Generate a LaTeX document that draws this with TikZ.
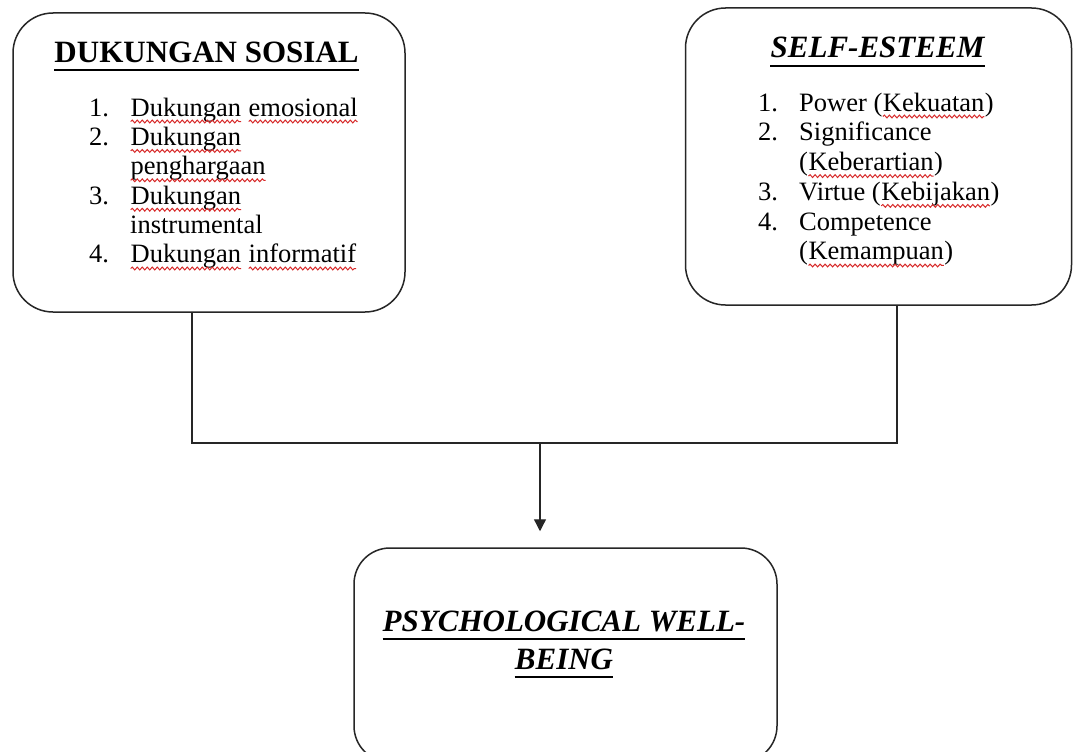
\documentclass[tikz,border=0pt]{standalone}
\usepackage{fontspec}
\setmainfont{Liberation Serif}
\usetikzlibrary{arrows.meta,decorations.pathmorphing}
\definecolor{spellred}{RGB}{215,40,40}
\newcommand\rw[1]{\tikz[x=1cm,y=1cm,baseline=(w.base)]{\node[anchor=base,inner sep=0pt,outer sep=0pt] (w) at (0,0) {#1};\draw[spellred,line width=1pt,decorate,decoration={snake,amplitude=1.4pt,segment length=5pt}] ([yshift=-5.5pt]w.base west) -- ([yshift=-5.5pt]w.base east);}}
\tikzset{
  box/.style={draw=black!85, line width=1.5pt, rounded corners=40pt, inner sep=0pt},
  titletext/.style={anchor=base, inner sep=0pt, font=\fontsize{31}{34}\selectfont\bfseries},
  listtext/.style={anchor=base west, inner sep=0pt, font=\fontsize{26.5}{29.4}\selectfont},
  uline/.style={line width=2.4pt, black},
  link/.style={draw=black!85, line width=1.3pt}
}
\begin{document}
\begin{tikzpicture}[x=1pt,y=-1pt]
\useasboundingbox (0,0) rectangle (1074,752);
\clip (0,0) rectangle (1074,752);
\fill[white] (0,0) rectangle (1074,752);
% boxes
\node[box, minimum width=392pt, minimum height=299pt] (ds) at (209,162.5) {};
\node[box, minimum width=386pt, minimum height=297pt] (se) at (878.5,156.5) {};
\node[box, rounded corners=36pt, minimum width=423pt, minimum height=214pt] (pw) at (565.5,655) {};
% titles
\node[titletext] (dst) at (206.5,63) {DUKUNGAN SOSIAL};
\draw[uline] ([yshift=-7pt]dst.base west) -- ([yshift=-7pt]dst.base east);
\node[titletext, font=\fontsize{31}{34}\selectfont\bfseries\itshape] (set) at (877.5,58) {SELF-ESTEEM};
\draw[uline] ([yshift=-8pt]set.base west) -- ([yshift=-8pt]set.base east);
\node[titletext, font=\fontsize{31}{34}\selectfont\bfseries\itshape] (pwt1) at (564,631) {PSYCHOLOGICAL WELL-};
\draw[uline] ([yshift=-8pt]pwt1.base west) -- ([yshift=-8pt]pwt1.base east);
\node[titletext, font=\fontsize{31}{34}\selectfont\bfseries\itshape] (pwt2) at (564,669) {BEING};
\draw[uline] ([yshift=-8pt]pwt2.base west) -- ([yshift=-8pt]pwt2.base east);
% lists
\node[listtext] (dsl) at (89,116) {\begin{tabular}[t]{@{}p{41pt}@{}l@{}}
1. & \rw{Dukungan} \rw{emosional}\\
2. & \rw{Dukungan}\\
   & \rw{penghargaan}\\
3. & \rw{Dukungan}\\
   & instrumental\\
4. & \rw{Dukungan} \rw{informatif}
\end{tabular}};
\node[listtext, font=\fontsize{26.5}{29.8}\selectfont] (sel) at (758,111) {\begin{tabular}[t]{@{}p{41pt}@{}l@{}}
1. & Power (\rw{Kekuatan})\\
2. & Significance\\
   & (\rw{Keberartian})\\
3. & Virtue (\rw{Kebijakan})\\
4. & Competence\\
   & (\rw{Kemampuan})
\end{tabular}};
% connectors
\coordinate (xl) at (192,0);
\coordinate (xr) at (897,0);
\coordinate (jy) at (0,443);
\coordinate (jn) at (540,443);
\draw[link] (ds.south -| xl) -- (xl |- jy) -- (xr |- jy) -- (se.south -| xr);
\draw[link, -{Triangle[length=12pt,width=12pt]}, shorten >=16pt] (jn) -- (pw.north -| jn);
\end{tikzpicture}
\end{document}
